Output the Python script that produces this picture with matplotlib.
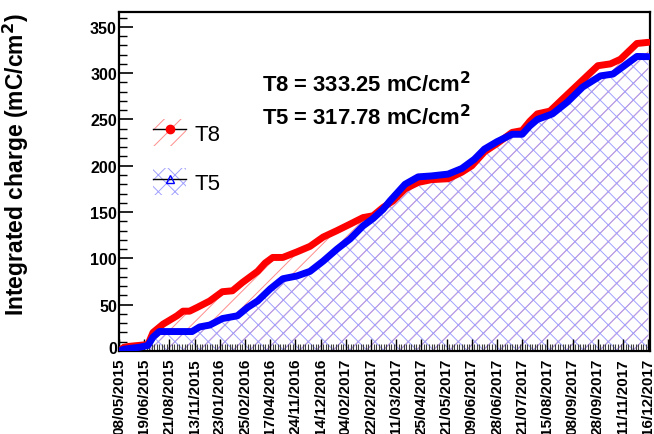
import matplotlib
matplotlib.use("Agg")
import matplotlib.pyplot as plt
from matplotlib.patches import Patch
from matplotlib.lines import Line2D
from matplotlib.legend_handler import HandlerTuple
from matplotlib.transforms import ScaledTranslation
import numpy as np

plt.rcParams['font.family'] = ['Liberation Sans', 'DejaVu Sans']
plt.rcParams['hatch.linewidth'] = 0.7

# x tick labels (every 10 bins)
date_labels = ["08/05/2015", "19/06/2015", "21/08/2015", "13/11/2015", "23/01/2016",
               "25/02/2016", "17/04/2016", "24/11/2016", "14/12/2016", "04/02/2017",
               "22/02/2017", "11/03/2017", "25/04/2017", "21/05/2017", "09/06/2017",
               "28/06/2017", "21/07/2017", "15/08/2017", "08/09/2017", "28/09/2017",
               "11/11/2017", "16/12/2017"]

# T8 (red) integrated charge, sampled at bin positions
t8_bins = [0, 2, 4, 11.5, 13.5, 17.5, 23, 25.4, 28, 31, 36, 41, 45, 49, 55, 58, 61, 65,
           70.6, 75.8, 81, 86.5, 91.7, 96.8, 100.8, 104.8, 108.7, 113.5, 118.7, 124,
           130.6, 136, 140, 145, 150, 156, 160, 163, 166, 171, 176, 183, 190, 195, 199,
           205.5, 210]
t8_vals = [0, 4, 5, 7, 20, 29, 38, 43, 43, 47, 54, 64, 65, 74, 86, 95, 101, 101,
           107, 113, 123, 130, 137, 144, 146, 155, 162, 175, 182, 185,
           186, 193, 200, 215, 224, 236, 238, 248, 256, 259, 272, 290, 308, 310, 315,
           332, 333.25]

# T5 (blue) integrated charge
t5_bins = [0, 2, 8, 11.5, 13.5, 16, 29, 32, 36, 41, 47, 51, 55, 60, 65, 70.6, 75.8,
           81, 86.5, 91.7, 96.8, 100.8, 104.8, 107.5, 113.5, 118.7, 124, 130.6, 136,
           141, 145, 150, 156, 160, 163, 166, 172, 178, 184, 191, 196, 200, 205.5, 210]
t5_vals = [0, 2, 4, 6, 15, 21, 21, 26, 28, 35, 38, 47, 54, 67, 78, 81, 86,
           97, 110, 121, 135, 143, 153, 162, 180, 188, 189, 191, 197,
           207, 218, 226, 234, 234, 243, 250, 256, 269, 285, 297, 299, 307, 318, 317.78]

fig = plt.figure(figsize=(6.54, 4.35), dpi=100)
ax = fig.add_axes([119/654, 1-352/435, (650-119)/654, (352-13)/435])

red_hatch = '#ff8c8c'
blue_hatch = '#a0a0ff'

ax.fill_between(t8_bins, 0, t8_vals, facecolor='none', edgecolor=red_hatch,
                hatch='//', linewidth=0, zorder=1)
ax.fill_between(t5_bins, 0, t5_vals, facecolor='none', edgecolor=blue_hatch,
                hatch='xx', linewidth=0, zorder=1.1)
ax.plot(t8_bins, t8_vals, color='#ff0000', lw=5, solid_joinstyle='round',
        solid_capstyle='round', zorder=3)
ax.plot(t5_bins, t5_vals, color='#0000ff', lw=5, solid_joinstyle='round',
        solid_capstyle='round', zorder=3.1)

ax.set_xlim(0, 210.7)
ax.set_ylim(0, 366)

ax.set_xticks(np.arange(0, 211, 10))
ax.set_xticklabels(date_labels, rotation=90, fontweight='bold', fontsize=11)
ax.set_xticks(np.arange(0, 211, 1), minor=True)
ax.set_yticks(np.arange(0, 351, 50))
ax.set_yticklabels([str(v) for v in range(0, 351, 50)], fontweight='bold', fontsize=11.5)
ax.set_yticks(np.arange(0, 361, 10), minor=True)

ax.tick_params(axis='both', which='both', direction='in', top=False, right=False)
ax.tick_params(axis='y', which='major', length=10, width=1.2, pad=1.5)
ax.tick_params(axis='y', which='minor', length=6, width=1.0)
ax.tick_params(axis='x', which='major', length=9, width=1.0, pad=5)
ax.tick_params(axis='x', which='minor', length=5, width=0.8, color='#404040')
for s in ax.spines.values():
    s.set_linewidth(1.6)

# nudge the "0" label up a little so it clears the first date label
lbl0 = ax.get_yticklabels()[0]
lbl0.set_transform(lbl0.get_transform() + ScaledTranslation(0, 3/72, fig.dpi_scale_trans))

ax.set_ylabel('Integrated charge (mC/cm$^\\mathbf{2}$)', fontweight='bold', fontsize=16.5,
              loc='top')
ax.yaxis.set_label_coords(-0.166, 1.0)

fig.text(262/654, 1-85/435, 'T8 = 333.25 mC/cm$^\\mathbf{2}$', fontweight='bold',
         fontsize=15.8, va='center', ha='left')
fig.text(262/654, 1-118/435, 'T5 = 317.78 mC/cm$^\\mathbf{2}$', fontweight='bold',
         fontsize=15.8, va='center', ha='left')

h8 = (Patch(facecolor='none', edgecolor=red_hatch, hatch='//', linewidth=0),
      Line2D([], [], color='black', lw=1, marker='o', markersize=6,
             markerfacecolor='red', markeredgecolor='red'))
h5 = (Patch(facecolor='none', edgecolor=blue_hatch, hatch='xx', linewidth=0),
      Line2D([], [], color='black', lw=1, marker='^', markersize=6,
             markerfacecolor='none', markeredgecolor='blue'))
leg = fig.legend([h8, h5], ['T8', 'T5'], handler_map={tuple: HandlerTuple(ndivide=1)},
                 loc='upper left', bbox_to_anchor=(153/654, 1-120/435), frameon=False,
                 fontsize=16, handlelength=1.5, handleheight=1.5, labelspacing=1.0,
                 borderpad=0, borderaxespad=0, handletextpad=0.35)

fig.savefig('out.png', dpi=100)
